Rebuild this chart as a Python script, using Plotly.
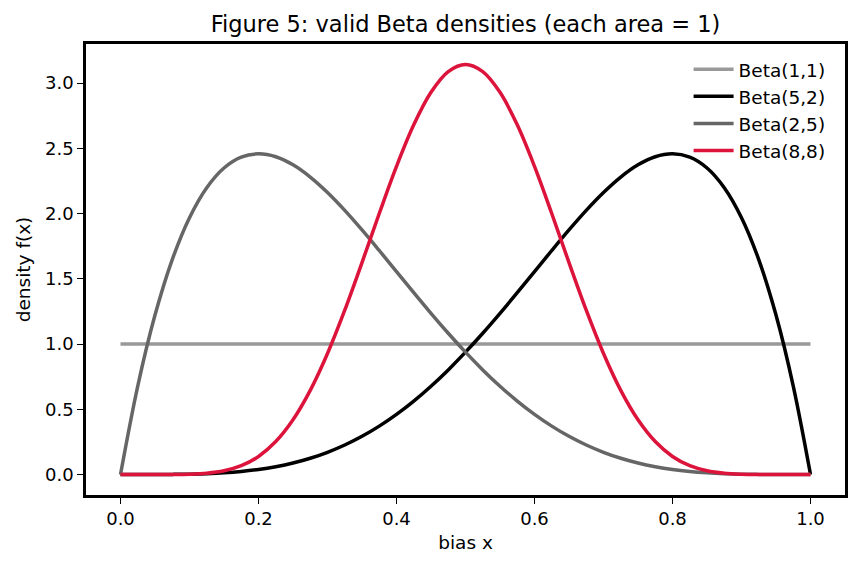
import plotly.graph_objects as go

# x grid (bias x)
x_vals = [0.000, 0.025, 0.050, 0.075, 0.100, 0.125, 0.150, 0.175, 0.200, 0.225,
          0.250, 0.275, 0.300, 0.325, 0.350, 0.375, 0.400, 0.425, 0.450, 0.475,
          0.500, 0.525, 0.550, 0.575, 0.600, 0.625, 0.650, 0.675, 0.700, 0.725,
          0.750, 0.775, 0.800, 0.825, 0.850, 0.875, 0.900, 0.925, 0.950, 0.975, 1.000]

beta_1_1 = [1.0] * 41
beta_5_2 = [0.0, 0.0000, 0.0002, 0.0009, 0.0027, 0.0064, 0.0129, 0.0232, 0.0384, 0.0596,
            0.0879, 0.1244, 0.1701, 0.2259, 0.2927, 0.3708, 0.4608, 0.5628, 0.6766, 0.8018,
            0.9375, 1.0826, 1.2352, 1.3937, 1.5552, 1.7166, 1.8743, 2.0240, 2.1609, 2.2793,
            2.3730, 2.4351, 2.4576, 2.4321, 2.3490, 2.1982, 1.9683, 1.6472, 1.2218, 0.6778, 0.0]
beta_2_5 = [0.0, 0.6778, 1.2218, 1.6472, 1.9683, 2.1982, 2.3490, 2.4321, 2.4576, 2.4351,
            2.3730, 2.2793, 2.1609, 2.0240, 1.8743, 1.7166, 1.5552, 1.3937, 1.2352, 1.0826,
            0.9375, 0.8018, 0.6766, 0.5628, 0.4608, 0.3708, 0.2927, 0.2259, 0.1701, 0.1244,
            0.0879, 0.0596, 0.0384, 0.0232, 0.0129, 0.0064, 0.0027, 0.0009, 0.0002, 0.0000, 0.0]
beta_8_8 = [0.0, 0.0000, 0.0000, 0.0004, 0.0025, 0.0096, 0.0282, 0.0673, 0.1382, 0.2524,
            0.4194, 0.6447, 0.9272, 1.2588, 1.6239, 2.0000, 2.3612, 2.6794, 2.9287, 3.0875,
            3.1421, 3.0875, 2.9287, 2.6794, 2.3612, 2.0000, 1.6239, 1.2588, 0.9272, 0.6447,
            0.4194, 0.2524, 0.1382, 0.0673, 0.0282, 0.0096, 0.0025, 0.0004, 0.0000, 0.0000, 0.0]

series_names = ["Beta(1,1)", "Beta(5,2)", "Beta(2,5)", "Beta(8,8)"]
series_vals = [beta_1_1, beta_5_2, beta_2_5, beta_8_8]
series_colors = ["#999999", "#000000", "#666666", "#DC143C"]

fig = go.Figure()
for i, (name, vals, col) in enumerate(zip(series_names, series_vals, series_colors)):
    fig.add_trace(go.Scatter(
        x=x_vals, y=vals, mode="lines", name=name, legendgroup=f"g{i}",
        line=dict(color=col, width=3.5, shape="spline", smoothing=1.0),
    ))

font_family = "DejaVu Sans"
tick_size = 18
fig.update_layout(
    width=859, height=569,
    margin=dict(l=86, r=14, t=44, b=74),
    paper_bgcolor="white", plot_bgcolor="white",
    font=dict(family=font_family, size=18.5, color="black"),
    title=dict(text="Figure 5: valid Beta densities (each area = 1)",
               x=0.5, xref="paper", xanchor="center", y=0.957, yanchor="middle",
               font=dict(size=22.5, color="black")),
    showlegend=True,
    legend=dict(x=0.981, xanchor="right", y=0.985, yanchor="top",
                bgcolor="rgba(0,0,0,0)", font=dict(size=18.5),
                traceorder="grouped", tracegroupgap=0, itemwidth=40),
)
fig.update_xaxes(
    range=[-0.05, 1.05], tickvals=[0.0, 0.2, 0.4, 0.6, 0.8, 1.0],
    ticktext=["0.0", "0.2", "0.4", "0.6", "0.8", "1.0"],
    tickfont=dict(size=tick_size),
    ticks="outside", ticklen=6, tickwidth=1.2, tickcolor="black",
    showline=True, linewidth=2.5, linecolor="black", mirror=True,
    showgrid=False, zeroline=False,
    title=dict(text="bias x", standoff=8, font=dict(size=18.5)),
)
fig.update_yaxes(
    range=[-0.157, 3.299], tickvals=[0.0, 0.5, 1.0, 1.5, 2.0, 2.5, 3.0],
    ticktext=["0.0", "0.5", "1.0", "1.5", "2.0", "2.5", "3.0"],
    tickfont=dict(size=tick_size),
    ticks="outside", ticklen=6, tickwidth=1.2, tickcolor="black",
    showline=True, linewidth=2.5, linecolor="black", mirror=True,
    showgrid=False, zeroline=False,
    title=dict(text="density f(x)", standoff=10, font=dict(size=18.5)),
)

fig.write_html("out.html")
